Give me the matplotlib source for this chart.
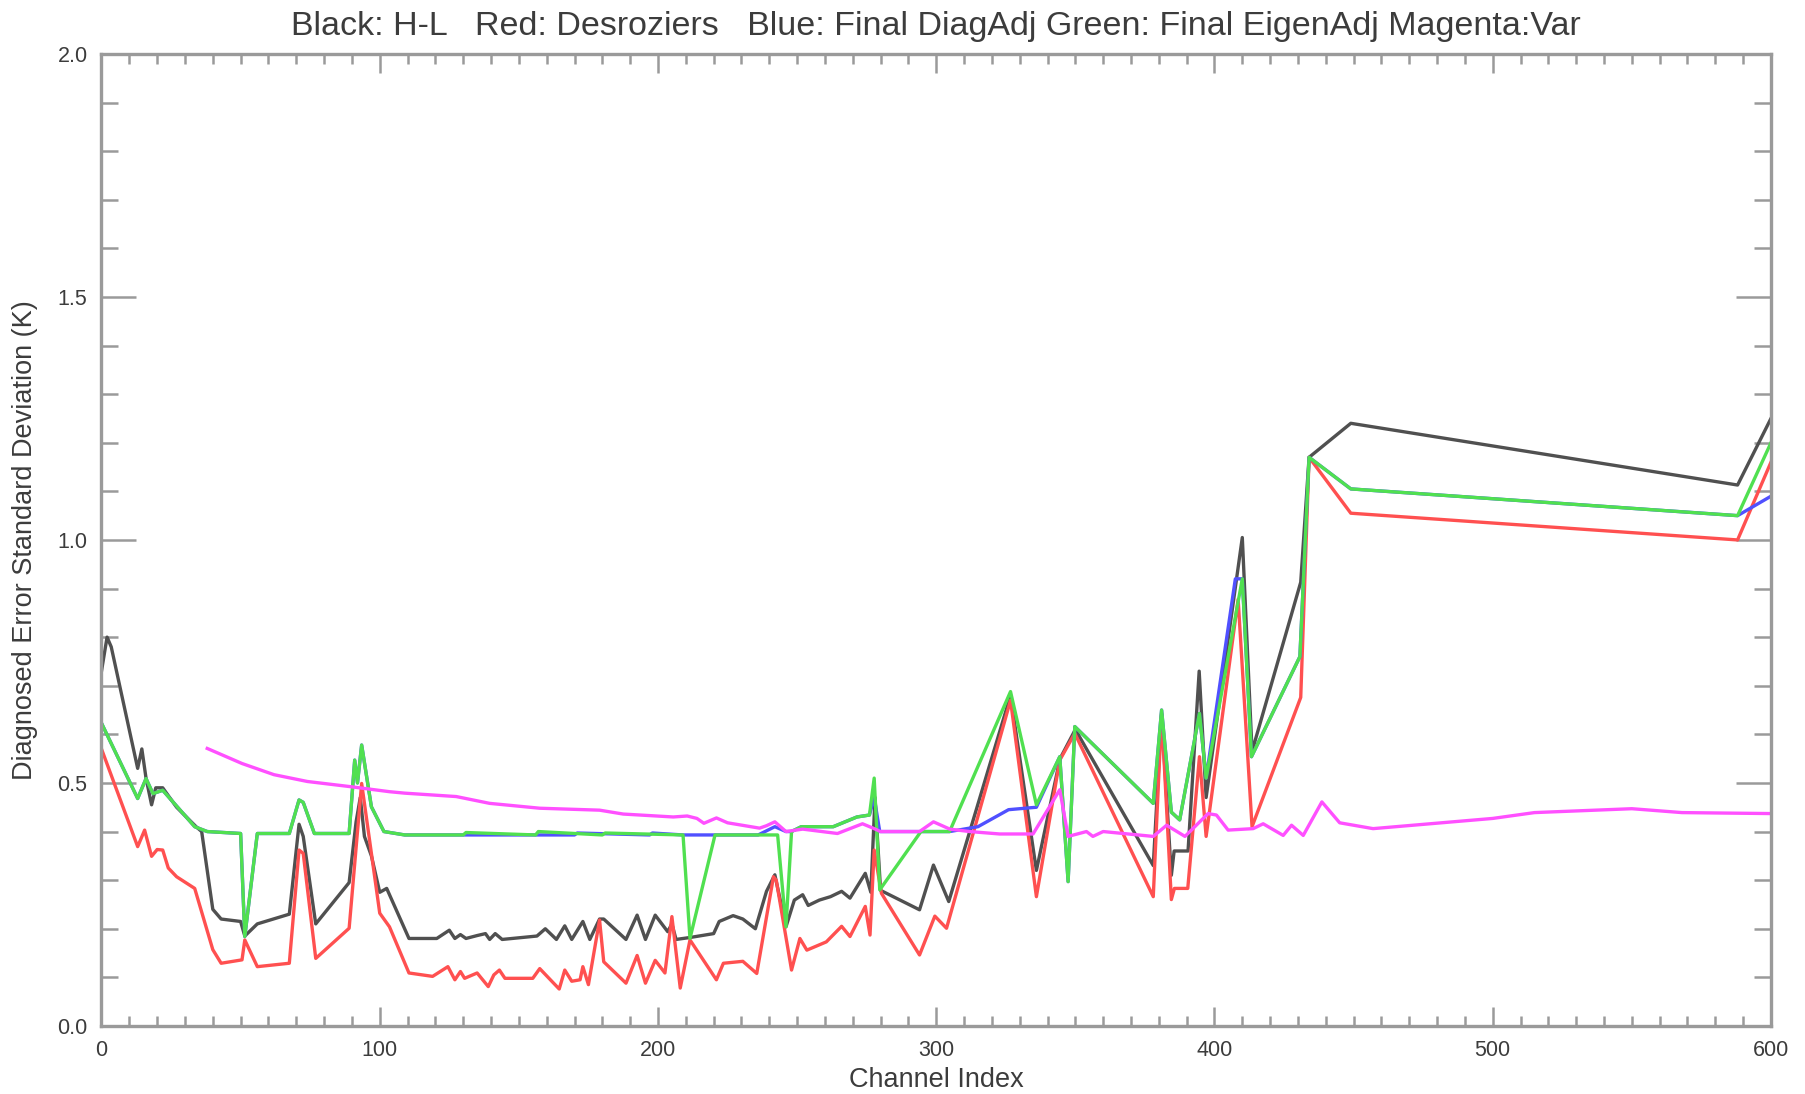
import matplotlib.pyplot as plt
from matplotlib.ticker import MultipleLocator, FormatStrFormatter

# H-L estimate (black)
hl_chan = [0, 2, 3.5, 13, 14.5, 16, 18, 19.5, 22, 27, 34, 36, 40, 43, 50, 51.5, 56, 67.5,
           71, 72.5, 77, 89, 91.5, 93, 94.5, 97, 100, 102.5, 110.5, 120.5, 125, 127, 129,
           131, 135, 138, 139.5, 141.5, 144, 156.5, 159.5, 163.5, 166.5, 169, 173, 175.5,
           179, 180.5, 188.5, 192.5, 195.5, 199, 203.5, 205, 206.5, 211.5, 220, 222, 227,
           230.5, 235, 239, 242, 246, 249, 252, 254, 258, 262, 266, 269, 274.5, 276.5, 278,
           280, 294, 299, 304.5, 326.7, 336, 344.5, 350, 378, 381, 384.5, 385.5, 390.5,
           394.5, 397, 410, 413.5, 431, 434, 449, 588, 600]
hl_std = [0.73, 0.80, 0.78, 0.53, 0.57, 0.51, 0.455, 0.49, 0.49, 0.45, 0.41, 0.40, 0.24,
          0.22, 0.215, 0.185, 0.21, 0.23, 0.415, 0.39, 0.21, 0.295, 0.42, 0.47, 0.39, 0.35,
          0.275, 0.283, 0.18, 0.18, 0.197, 0.18, 0.188, 0.18, 0.186, 0.19, 0.178, 0.19,
          0.178, 0.185, 0.20, 0.178, 0.206, 0.178, 0.215, 0.178, 0.22, 0.22, 0.178, 0.228,
          0.178, 0.228, 0.194, 0.21, 0.178, 0.182, 0.19, 0.215, 0.227, 0.22, 0.20, 0.277,
          0.311, 0.204, 0.259, 0.27, 0.248, 0.259, 0.266, 0.277, 0.263, 0.314, 0.275, 0.47,
          0.279, 0.239, 0.331, 0.256, 0.68, 0.32, 0.55, 0.61, 0.33, 0.64, 0.31, 0.36, 0.36,
          0.73, 0.47, 1.005, 0.565, 0.913, 1.17, 1.24, 1.113, 1.25]

# Desroziers estimate (red)
des_chan = [0, 13, 15.5, 18, 20, 22, 24, 27, 33.5, 40, 43, 50.5, 51.5, 56, 67.5, 71, 72.5,
            77, 89, 93.5, 100, 103.5, 110.5, 119, 124.5, 127, 129, 130.5, 135, 139, 141,
            143, 145, 155, 157.5, 164.5, 166.5, 169, 172, 173, 175, 179, 180.5, 188.5,
            192.5, 195.5, 199, 202.5, 205, 208, 211.5, 221, 223.5, 230.5, 235.5, 241.5,
            242.5, 248, 251, 253.5, 260.5, 266, 269, 274.5, 276.2, 277.7, 280.3, 294,
            299.5, 303.7, 326.7, 336, 344.4, 349.8, 378, 381, 384.5, 385.6, 390.4, 394.6,
            397, 408.5, 413.5, 431, 434, 449, 588, 600]
des_std = [0.57, 0.369, 0.403, 0.349, 0.363, 0.362, 0.325, 0.307, 0.283, 0.157, 0.129,
           0.136, 0.177, 0.122, 0.129, 0.362, 0.355, 0.139, 0.201, 0.499, 0.232, 0.204,
           0.109, 0.102, 0.122, 0.095, 0.112, 0.098, 0.109, 0.081, 0.105, 0.115, 0.098,
           0.098, 0.118, 0.076, 0.115, 0.092, 0.095, 0.122, 0.085, 0.218, 0.132, 0.088,
           0.145, 0.088, 0.135, 0.109, 0.225, 0.078, 0.177, 0.095, 0.129, 0.133, 0.108,
           0.307, 0.30, 0.115, 0.180, 0.156, 0.173, 0.205, 0.184, 0.246, 0.187, 0.362,
           0.273, 0.146, 0.226, 0.201, 0.67, 0.266, 0.547, 0.602, 0.266, 0.643, 0.26,
           0.283, 0.283, 0.554, 0.39, 0.878, 0.41, 0.676, 1.17, 1.055, 1.0, 1.16]

# Final diagonal adjustment (blue)
diag_chan = [0, 13, 16, 18.5, 22, 33.5, 38, 50, 51.5, 56, 67.5, 71, 72.5, 76.5, 89, 91, 92,
             93.5, 97, 101.5, 109, 170, 171, 197, 198, 209, 221, 236, 242, 246, 248, 251.5,
             263, 271.5, 276, 277.7, 279.7, 294.5, 304.8, 315, 326, 336, 344.4, 347.4,
             349.8, 378, 381, 384.5, 387.5, 394.6, 397, 407.5, 410, 413.3, 430.7, 434, 449,
             588, 600]
diag_std = [0.623, 0.468, 0.509, 0.478, 0.485, 0.41, 0.40, 0.396, 0.184, 0.396, 0.396,
            0.465, 0.46, 0.396, 0.396, 0.547, 0.50, 0.578, 0.451, 0.40, 0.393, 0.393, 0.397,
            0.393, 0.397, 0.393, 0.393, 0.393, 0.41, 0.40, 0.40, 0.41, 0.41, 0.43, 0.434,
            0.47, 0.40, 0.40, 0.40, 0.41, 0.445, 0.45, 0.554, 0.297, 0.616, 0.458, 0.65,
            0.44, 0.424, 0.643, 0.51, 0.92, 0.92, 0.554, 0.76, 1.17, 1.105, 1.05, 1.09]

# Final eigen adjustment (green)
eig_chan = [0, 13, 16, 18.5, 22, 33.5, 38, 50, 51.5, 56, 67.5, 71, 72.5, 76.5, 89, 91, 92,
            93.5, 97, 101.5, 109, 130, 131, 156, 157, 180, 181, 209, 211.5, 220.5, 243, 246,
            248, 251.5, 263, 271.5, 276, 277.7, 279.7, 294.5, 304.8, 326.7, 336, 344.4,
            347.4, 349.8, 378, 381, 384.5, 387.5, 394.6, 397, 410, 413.3, 430.7, 434, 449,
            588, 600]
eig_std = [0.623, 0.468, 0.509, 0.478, 0.485, 0.41, 0.40, 0.396, 0.184, 0.396, 0.396,
           0.465, 0.46, 0.396, 0.396, 0.547, 0.50, 0.578, 0.451, 0.40, 0.393, 0.393, 0.398,
           0.393, 0.40, 0.393, 0.397, 0.393, 0.18, 0.393, 0.393, 0.204, 0.40, 0.41, 0.41,
           0.43, 0.434, 0.51, 0.28, 0.40, 0.40, 0.688, 0.455, 0.554, 0.297, 0.616, 0.458,
           0.65, 0.44, 0.424, 0.643, 0.51, 0.92, 0.554, 0.76, 1.17, 1.105, 1.05, 1.20]

# Variational estimate (magenta)
var_chan = [38, 50.5, 62, 74, 90, 103.5, 109, 127.5, 139.5, 157.5, 179, 187.5, 205.5,
            210.5, 214, 216.5, 221, 225, 236.5, 239, 242, 246, 252, 264.5, 273.5, 277.3,
            280, 294, 299, 304.9, 312, 322.8, 334.8, 344.4, 347.4, 354, 356.3, 360, 378,
            382.8, 389.4, 397.7, 400.7, 404.9, 413.9, 417.5, 424.7, 427.7, 431.9, 438.6,
            445, 457, 500, 515, 550, 568, 600]
var_std = [0.571, 0.54, 0.517, 0.503, 0.492, 0.482, 0.479, 0.472, 0.458, 0.448, 0.444,
           0.436, 0.43, 0.432, 0.427, 0.417, 0.428, 0.418, 0.407, 0.412, 0.42, 0.40, 0.405,
           0.396, 0.416, 0.407, 0.40, 0.40, 0.42, 0.405, 0.40, 0.395, 0.395, 0.486, 0.39,
           0.40, 0.39, 0.40, 0.39, 0.413, 0.39, 0.437, 0.434, 0.403, 0.406, 0.416, 0.392,
           0.413, 0.392, 0.461, 0.418, 0.406, 0.427, 0.439, 0.447, 0.439, 0.437]

title = ("Black: H-L   Red: Desroziers   Blue: Final DiagAdj "
         "Green: Final EigenAdj Magenta:Var")

plt.rcParams['font.family'] = ['Liberation Sans', 'DejaVu Sans']
txt = '#3c3c3c'
axc = '#9a9a9a'

fig = plt.figure(figsize=(18.06, 10.94), dpi=100)
ax = fig.add_axes([0.0562, 0.0622, 0.9244, 0.8885])

lw = 2.4
ax.plot(hl_chan, hl_std, color='#505050', lw=lw)
ax.plot(des_chan, des_std, color='#ff5050', lw=lw)
ax.plot(diag_chan, diag_std, color='#5050ff', lw=lw)
ax.plot(eig_chan, eig_std, color='#50e050', lw=lw)
ax.plot(var_chan, var_std, color='#ff50ff', lw=lw)

ax.set_xlim(0, 600)
ax.set_ylim(0, 2.0)
ax.xaxis.set_major_locator(MultipleLocator(100))
ax.xaxis.set_minor_locator(MultipleLocator(10))
ax.yaxis.set_major_locator(MultipleLocator(0.5))
ax.yaxis.set_minor_locator(MultipleLocator(0.1))
ax.yaxis.set_major_formatter(FormatStrFormatter('%.1f'))

ax.tick_params(axis='both', which='both', direction='in', top=True, right=True,
               color=axc, labelcolor=txt, labelsize=15.5, width=1.8)
ax.tick_params(axis='x', which='major', length=14, pad=10)
ax.tick_params(axis='x', which='minor', length=7)
ax.tick_params(axis='y', which='major', length=25, pad=10)
ax.tick_params(axis='y', which='minor', length=12)
for s in ax.spines.values():
    s.set_color(axc)
    s.set_linewidth(2.4)

xc = 0.5184
fig.text(xc, 1 - 27 / 1094, title, ha='center', va='center', fontsize=24.5, color=txt)
fig.text(xc, 1 - 1080 / 1094, 'Channel Index', ha='center', va='center',
         fontsize=19.5, color=txt)
fig.text(25 / 1806, 1 - 540 / 1094, 'Diagnosed Error Standard Deviation (K)',
         rotation=90, ha='center', va='center', fontsize=19.5, color=txt)

fig.savefig('out.png', dpi=100)
